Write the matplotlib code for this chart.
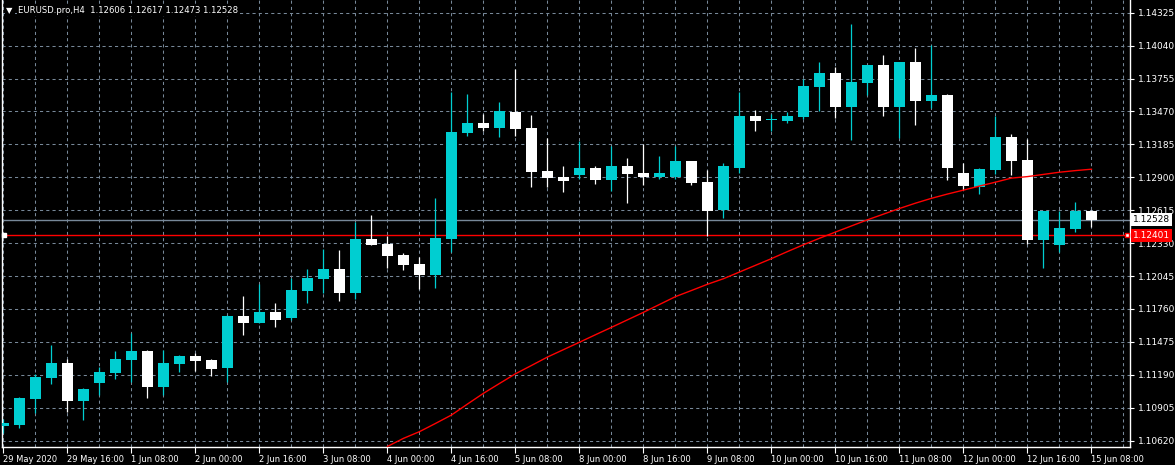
#!/usr/bin/env python3
# -*- coding: utf-8 -*-
"""
Chart candlestick EURUSD H4 bergaya MetaTrader (latar hitam,
candle cyan/putih, moving average merah, garis bid/ask).
"""

# Import matplotlib untuk visualisasi
import matplotlib
matplotlib.use("Agg")
import matplotlib.pyplot as plt
from matplotlib.transforms import blended_transform_factory

# =============================================================================
# DATA
# =============================================================================

# Open tiap bar H4 (29 May 2020 00:00 s/d 15 Jun 08:00)
opens = [
    1.10750, 1.10758, 1.10981, 1.11165, 1.11292, 1.10966, 1.11122, 1.11208,
    1.11321, 1.11396, 1.11087, 1.11286, 1.11353, 1.11318, 1.11252, 1.11699,
    1.11639, 1.11734, 1.11682, 1.11916, 1.12020, 1.12106, 1.11898, 1.12366,
    1.12323, 1.12227, 1.12149, 1.12054, 1.12366, 1.13284, 1.13370, 1.13327,
    1.13465, 1.13327, 1.12955, 1.12903, 1.12920, 1.12981, 1.12877, 1.12998,
    1.12937, 1.12903, 1.12903, 1.13041, 1.12859, 1.12617, 1.12981, 1.13431,
    1.13396, 1.13387, 1.13422, 1.13682, 1.13803, 1.13509, 1.13716, 1.13872,
    1.13509, 1.13898, 1.13561, 1.13613, 1.12937, 1.12816, 1.12963, 1.13249,
    1.13050, 1.12357, 1.12314, 1.12452, 1.12606,
]
# High tiap bar
highs = [
    1.10808, 1.10998, 1.11195, 1.11448, 1.11327, 1.11076, 1.11258, 1.11396,
    1.11550, 1.11405, 1.11405, 1.11362, 1.11376, 1.11327, 1.11708, 1.11872,
    1.11976, 1.11812, 1.12028, 1.12106, 1.12279, 1.12271, 1.12513, 1.12574,
    1.12392, 1.12245, 1.12210, 1.12721, 1.13639, 1.13621, 1.13448, 1.13552,
    1.13838, 1.13439, 1.13240, 1.12998, 1.13214, 1.12998, 1.13171, 1.13067,
    1.13188, 1.13084, 1.13171, 1.13045, 1.12963, 1.13024, 1.13639, 1.13483,
    1.13448, 1.13465, 1.13751, 1.13898, 1.13855, 1.14227, 1.13875, 1.13959,
    1.13900, 1.14019, 1.14045, 1.13621, 1.13024, 1.12981, 1.13431, 1.13275,
    1.13232, 1.12610, 1.12608, 1.12686, 1.12617,
]
# Low tiap bar
lows = [
    1.10689, 1.10732, 1.10862, 1.11113, 1.10871, 1.10802, 1.11015, 1.11156,
    1.11125, 1.10992, 1.11018, 1.11217, 1.11223, 1.11182, 1.11125, 1.11537,
    1.11635, 1.11604, 1.11665, 1.11812, 1.11898, 1.11829, 1.11846, 1.12310,
    1.12115, 1.12098, 1.11933, 1.11942, 1.12253, 1.13258, 1.13301, 1.13249,
    1.13258, 1.12816, 1.12816, 1.12773, 1.12885, 1.12842, 1.12781, 1.12678,
    1.12833, 1.12885, 1.12885, 1.12833, 1.12392, 1.12548, 1.12937, 1.13301,
    1.13301, 1.13370, 1.13405, 1.13474, 1.13413, 1.13223, 1.13613, 1.13431,
    1.13240, 1.13353, 1.13500, 1.12877, 1.12790, 1.12755, 1.12929, 1.12920,
    1.12323, 1.12115, 1.12253, 1.12426, 1.12473,
]
# Close tiap bar
closes = [
    1.10770, 1.10989, 1.11171, 1.11292, 1.10966, 1.11067, 1.11214, 1.11327,
    1.11396, 1.11087, 1.11292, 1.11353, 1.11312, 1.11243, 1.11699, 1.11641,
    1.11734, 1.11665, 1.11924, 1.12028, 1.12106, 1.11898, 1.12366, 1.12314,
    1.12219, 1.12141, 1.12054, 1.12375, 1.13292, 1.13370, 1.13327, 1.13474,
    1.13318, 1.12946, 1.12894, 1.12868, 1.12981, 1.12877, 1.12998, 1.12929,
    1.12903, 1.12937, 1.13041, 1.12851, 1.12608, 1.12998, 1.13431, 1.13387,
    1.13397, 1.13431, 1.13690, 1.13803, 1.13509, 1.13725, 1.13872, 1.13509,
    1.13898, 1.13561, 1.13613, 1.12981, 1.12825, 1.12972, 1.13249, 1.13041,
    1.12357, 1.12608, 1.12461, 1.12608, 1.12528,
]

# Moving average (mulai dari bar ke-24, sebelumnya di bawah layar)
ma_start = 24
ma_values = [
    1.10570, 1.10640, 1.10698, 1.10769, 1.10842, 1.10937, 1.11030, 1.11115,
    1.11199, 1.11271, 1.11344, 1.11408, 1.11472, 1.11537, 1.11601, 1.11666,
    1.11731, 1.11799, 1.11867, 1.11920, 1.11974, 1.12022, 1.12080, 1.12138,
    1.12196, 1.12257, 1.12316, 1.12372, 1.12426, 1.12479, 1.12532, 1.12581,
    1.12630, 1.12676, 1.12718, 1.12755, 1.12789, 1.12824, 1.12858, 1.12893,
    1.12906, 1.12925, 1.12944, 1.12958, 1.12970,
]

# Label waktu (setiap 4 bar)
time_labels = [
    "29 May 2020", "29 May 16:00", "1 Jun 08:00", "2 Jun 00:00",
    "2 Jun 16:00", "3 Jun 08:00", "4 Jun 00:00", "4 Jun 16:00",
    "5 Jun 08:00", "8 Jun 00:00", "8 Jun 16:00", "9 Jun 08:00",
    "10 Jun 00:00", "10 Jun 16:00", "11 Jun 08:00", "12 Jun 00:00",
    "12 Jun 16:00", "15 Jun 08:00",
]

# Level harga di sumbu kanan
price_ticks = [
    1.10620, 1.10905, 1.11190, 1.11475, 1.11760, 1.12045, 1.12330,
    1.12615, 1.12900, 1.13185, 1.13470, 1.13755, 1.14040, 1.14325,
]

# Harga bid dan level garis merah
bid_price = 1.12528
red_level = 1.12401

# Judul simbol
symbol_text = "EURUSD.pro,H4  1.12606 1.12617 1.12473 1.12528"

# =============================================================================
# KONFIGURASI
# =============================================================================

BULL_COLOR = "#00CED1"
BEAR_COLOR = "#FFFFFF"
GRID_COLOR = "#778899"
Y_FONT = 6.5
X_FONT = 6.0
TITLE_SIZE = 6.1
W, H = 1175, 465


# Fungsi utama
def main():
    plt.rcParams["font.family"] = ["DejaVu Sans"]

    # Buat figure
    fig = plt.figure(figsize=(W / 100, H / 100), dpi=100, facecolor="black")
    # Posisi area plot (pixel)
    left, right, bottom, top = 2.3, 1129.7, 446.7, 0.0
    ax = fig.add_axes([left / W, (H - bottom) / H, (right - left) / W, (bottom - top) / H])
    ax.set_facecolor("black")

    n = len(opens)
    xs = list(range(n))

    # Skala sumbu
    ax.set_xlim(-0.075, 70.39)
    ax.set_ylim(1.105677, 1.144349)

    # Grid putus-putus
    for p in price_ticks:
        ax.axhline(p, color=GRID_COLOR, lw=0.75, ls=(0, (3, 3)), zorder=0)
    for b in range(0, 71, 2):
        ax.axvline(b, color=GRID_COLOR, lw=0.75, ls=(0, (3, 3)), zorder=0)

    # Garis bid dan garis merah
    ax.axhline(bid_price, color=GRID_COLOR, lw=1.0, zorder=1)
    ax.axhline(red_level, color="red", lw=1.0, zorder=1)

    # Candle: wick dulu, lalu body
    colors = [BULL_COLOR if c >= o else BEAR_COLOR for o, c in zip(opens, closes)]
    ax.vlines(xs, lows, highs, colors=colors, lw=0.9, zorder=2)
    bottoms = [min(o, c) for o, c in zip(opens, closes)]
    heights = [max(abs(c - o), 0.00009) for o, c in zip(opens, closes)]
    ax.bar(xs, heights, bottom=bottoms, width=0.69, color=colors, linewidth=0, zorder=3)

    # Moving average
    ma_x = list(range(ma_start, ma_start + len(ma_values)))
    ax.plot(ma_x, ma_values, color="red", lw=1.0, zorder=4)

    # Penanda kecil di ujung garis merah
    ax.plot([70.2], [red_level], marker="s", ms=3.5, mfc="white", mec="red", mew=1,
            zorder=5, clip_on=False)
    ax.plot([0.05], [red_level], marker="s", ms=2.5, mfc="white", mec="white",
            zorder=5, clip_on=False)

    # Spines
    for side in ["left", "right", "bottom"]:
        ax.spines[side].set_color("white")
        ax.spines[side].set_linewidth(1.0)
    ax.spines["top"].set_visible(False)

    # Sumbu harga di kanan
    ax.yaxis.tick_right()
    ax.set_yticks(price_ticks)
    ax.set_yticklabels([f"{p:.5f}" for p in price_ticks])
    ax.tick_params(axis="y", colors="white", labelcolor="white", length=3,
                   width=0.8, direction="out", pad=3, labelsize=Y_FONT)

    # Sumbu waktu
    ax.set_xticks(list(range(0, n, 4)))
    ax.set_xticklabels(time_labels, ha="left")
    ax.tick_params(axis="x", colors="white", labelcolor="white", length=4,
                   width=0.8, direction="out", pad=2, labelsize=X_FONT)

    # Kotak harga bid dan level merah di sumbu kanan
    trans = blended_transform_factory(ax.transAxes, ax.transData)
    ax.text(1.0 + 3 / 1127, bid_price + 0.00006, f"{bid_price:.5f}", transform=trans,
            ha="left", va="center", color="black", fontsize=Y_FONT, clip_on=False,
            bbox=dict(facecolor="white", edgecolor="none", pad=1.5))
    ax.text(1.0 + 3 / 1127, red_level - 0.00006, f"{red_level:.5f}", transform=trans,
            ha="left", va="center", color="white", fontsize=Y_FONT, clip_on=False,
            bbox=dict(facecolor="red", edgecolor="none", pad=1.5))

    # Judul kiri atas
    fig.text(6 / W, 1 - 10.5 / H, "\u25BC", color="white", fontsize=6, va="center",
             ha="left", bbox=dict(facecolor="black", edgecolor="none", pad=0.5))
    fig.text(18 / W, 1 - 10.5 / H, symbol_text, color="white", fontsize=TITLE_SIZE,
             va="center", ha="left",
             bbox=dict(facecolor="black", edgecolor="none", pad=0.8))

    # Simpan
    fig.savefig("out.png", dpi=100, facecolor="black")
    plt.close(fig)


# Entry point
if __name__ == "__main__":
    main()
